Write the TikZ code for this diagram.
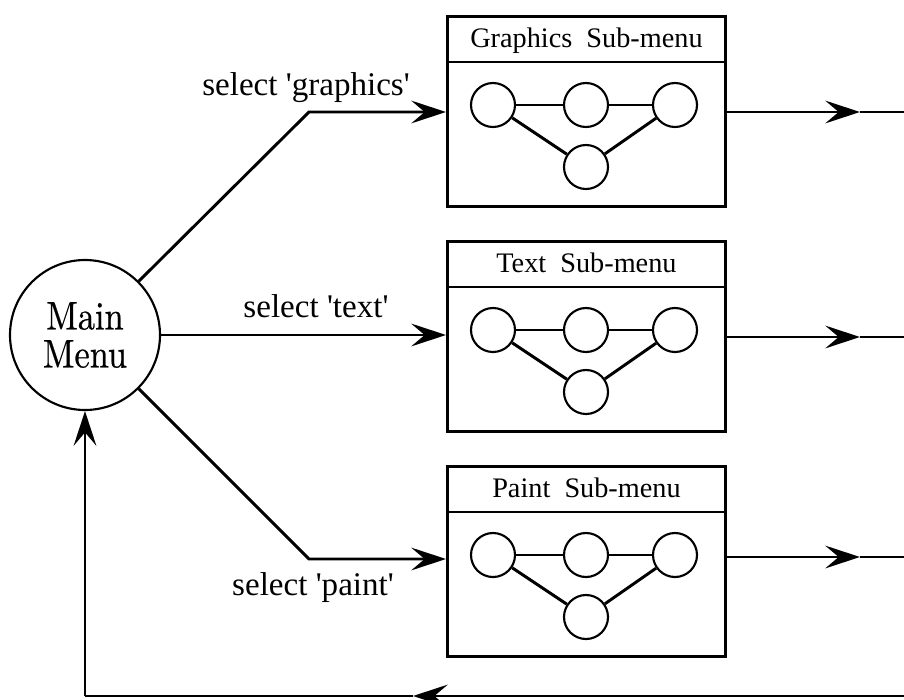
\documentclass[tikz,border=0pt]{standalone}
\usepackage{fontspec}
\newfontfamily\labelfont{Liberation Serif}
\newfontfamily\menufont{lmroman10-regular.otf}[FakeStretch=0.86,FakeBold=0.6]
\usetikzlibrary{arrows.meta,calc}
\begin{document}
\begin{tikzpicture}[x=0.75pt,y=-0.75pt,
  wire/.style={line width=2.2pt},
  thinwire/.style={line width=1.5pt},
  head/.tip={Stealth[length=26pt,width=17pt,inset=10pt]},
  menu/.style={circle,draw,line width=1.6pt,minimum size=112.5pt,inner sep=0pt,
    align=center,font=\menufont\fontsize{30}{28.5}\selectfont},
  box/.style={draw,line width=2.2pt,minimum width=208.5pt,minimum height=142.5pt,inner sep=0pt},
  dot/.style={circle,draw,line width=1.6pt,minimum size=33pt,inner sep=0pt},
  title/.style={font=\labelfont\fontsize{21.2}{24}\selectfont,inner sep=0pt},
  lab/.style={font=\labelfont\fontsize{24.8}{28}\selectfont,inner sep=0pt}]
\useasboundingbox (0,0) rectangle (904,700);

% main menu
\node[menu] (main) at (85,335) {Main\\Menu};

% the three sub-menu boxes, each with its small state graph
\foreach \n/\t/\y in {g/Graphics/15,t/Text/240,p/Paint/465}{
  \node[box,anchor=north west] (\n) at (446,\y) {};
  \coordinate (\n L) at ($(\n.north west)+(0,47)$);
  \coordinate (\n R) at ($(\n.north east)+(0,47)$);
  \draw[wire] (\n L) -- (\n R);
  \node[title,anchor=base] (\n T) at ($(\n.north)+(0,32.5)$) {\t\ \ Sub-menu};
  \node[dot] (\n 1) at ($(\n.north west)+(47,90)$) {};
  \node[dot] (\n 2) at ($(\n.north west)+(140,90)$) {};
  \node[dot] (\n 3) at ($(\n.north west)+(229,90)$) {};
  \node[dot] (\n 4) at ($(\n.north west)+(140,152)$) {};
  \draw[thinwire] (\n 1) -- (\n 2) -- (\n 3);
  \draw[wire] (\n 1) -- (\n 4) -- (\n 3);
}

% selections from the main menu
\coordinate (gbend) at (309,112);
\coordinate (pbend) at (309,559);
\draw[wire,-head] (main.45) -- (gbend) -- (gbend -| g.west);
\draw[wire,-head] (main.east) -- (main.east -| t.west);
\draw[wire,-head] (main.-45) -- (pbend) -- (pbend -| p.west);

\node[lab,anchor=base] (lg) at (306,95) {select 'graphics'};
\node[lab,anchor=base] (lt) at (316,317) {select 'text'};
\node[lab,anchor=base] (lp) at (313,595) {select 'paint'};

% exits from the sub-menus
\foreach \n/\y in {g/112,t/337,p/557}{
  \coordinate (\n out) at (860,\y);
  \coordinate (\n end) at (904,\y);
  \draw[wire,-head] (\n out -| \n.east) -- (\n out);
  \draw[wire] (\n out) -- (\n end);
}

% return path to the main menu
\coordinate (rb) at (904,696);
\coordinate (rm) at (413,696);
\coordinate (lb) at (main.south |- rb);
\draw[wire,-head] (rb) -- (rm);
\draw[wire] (rm) -- (lb);
\draw[wire,-head] (lb) -- (main.south);
\end{tikzpicture}
\end{document}
